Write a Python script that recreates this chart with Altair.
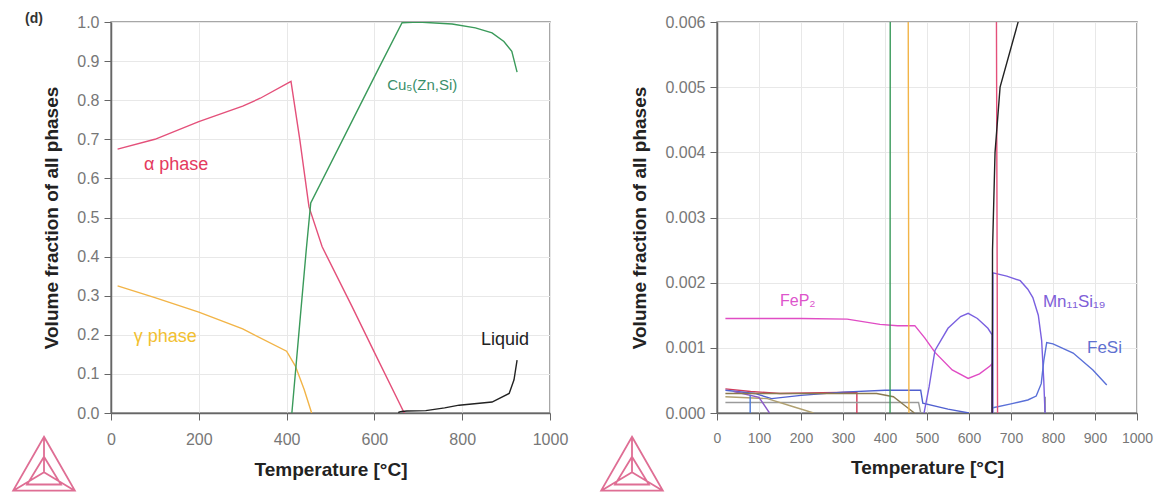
import altair as alt
import pandas as pd

# ---------------- left panel (volume fraction 0..1) ----------------
alpha_T = [15, 100, 200, 300, 340, 410, 430, 451, 481, 550, 600, 668]
alpha_v = [0.675, 0.70, 0.745, 0.785, 0.805, 0.848, 0.70, 0.527, 0.425, 0.27, 0.155, 0.0]

gamma_T = [15, 100, 200, 300, 400, 420, 440, 457]
gamma_v = [0.325, 0.295, 0.258, 0.215, 0.158, 0.12, 0.06, 0.0]

cu5_T = [412, 430, 445, 455, 535, 610, 663, 700, 777, 830, 868, 895, 913, 925]
cu5_v = [0.0, 0.23, 0.42, 0.537, 0.715, 0.882, 0.998, 1.0, 0.995, 0.985, 0.972, 0.95, 0.925, 0.872]

liquid_T = [655, 655.5, 656, 662, 674, 717, 760, 793, 868, 907, 918, 925]
liquid_v = [0.0, 0.001, 0.0025, 0.004, 0.005, 0.006, 0.013, 0.02, 0.028, 0.05, 0.085, 0.135]

# ---------------- right panel (minor phases) ----------------
fep2_T = [20, 100, 200, 310, 388, 430, 471, 495, 519, 560, 598, 625, 650, 655, 655]
fep2_v = [0.00145, 0.00145, 0.00145, 0.00144, 0.00136, 0.00134, 0.00134, 0.00115, 0.00093, 0.00066, 0.00053, 0.0006, 0.00072, 0.00076, 0.0]

mna_T = [493, 505, 519, 550, 580, 598, 620, 645, 655, 655]
mna_v = [0.0, 0.0004, 0.00096, 0.0013, 0.00148, 0.00153, 0.00145, 0.0013, 0.0012, 0.0]

mnb_T = [657, 657, 690, 722, 740, 752, 765, 773, 778, 781]
mnb_v = [0.0, 0.00215, 0.0021, 0.00203, 0.0019, 0.00177, 0.0015, 0.00111, 0.0005, 0.0]

fesi_T = [657, 700, 740, 760, 772, 778, 785, 800, 848, 895, 928]
fesi_v = [0.00008, 0.00014, 0.0002, 0.00026, 0.00045, 0.0008, 0.00108, 0.00106, 0.00092, 0.00066, 0.00043]

m1_T = [20, 80, 150, 250, 333, 333]
m1_v = [0.00037, 0.00033, 0.0003, 0.00031, 0.00032, 0.0]
m2_T = [20, 90, 130, 200, 300, 400, 485, 490, 550, 600]
m2_v = [0.00035, 0.0003, 0.00022, 0.00027, 0.00032, 0.00035, 0.00035, 0.00015, 0.00006, 0.0]
m3_T = [20, 480, 485]
m3_v = [0.00016, 0.00016, 0.0]
m4_T = [20, 120, 180, 230]
m4_v = [0.00025, 0.00022, 0.0001, 0.0]
m5_T = [40, 100, 125]
m5_v = [0.00033, 0.00024, 0.0]
m6_T = [79, 79]
m6_v = [0.0, 0.00028]
m7_T = [20, 380, 420, 450, 470]
m7_v = [0.0003, 0.0003, 0.00025, 0.0001, 0.0]
m8_T = [781, 781]
m8_v = [0.0, 0.00025]

series_names = ["alpha", "gamma", "cu5", "liquid", "fep2", "mna", "mnb", "fesi",
                "m1", "m2", "m3", "m4", "m5", "m6", "m7", "m8"]
series_colors = ["#e4507a", "#f2b447", "#3a9a5a", "#222222", "#e04cc4", "#7a60e0", "#7a60e0", "#5a70d8",
                 "#d03a5a", "#5060d0", "#9a9a9a", "#b0a070", "#8a58c8", "#4a78d8", "#8a7a50", "#777777"]

# labels
left_lab_text = ["α phase", "γ phase", "Cu₅(Zn,Si)", "Liquid"]
left_lab_T = [75, 52, 629, 843]
left_lab_v = [0.634, 0.195, 0.839, 0.187]
left_lab_col = ["#e43a5e", "#f2c030", "#3a8f6a", "#222222"]
left_lab_size = [18, 18, 15, 18]

right_lab_text = ["FeP₂", "Mn₁₁Si₁₉", "FeSi"]
right_lab_T = [150, 776, 881]
right_lab_v = [0.001725, 0.0017, 0.001]
right_lab_col = ["#dd55cc", "#8060d8", "#6070d0"]
right_lab_size = [16, 17, 17]

x_ticks_left = [0, 200, 400, 600, 800, 1000]
x_ticks_right = [0, 100, 200, 300, 400, 500, 600, 700, 800, 900, 1000]
y_ticks_left = [0.0, 0.1, 0.2, 0.3, 0.4, 0.5, 0.6, 0.7, 0.8, 0.9, 1.0]
y_ticks_right = [0.0, 0.001, 0.002, 0.003, 0.004, 0.005, 0.006]


def sdf(name, T, v):
    return pd.DataFrame({"series": name, "T": T, "v": v, "i": list(range(len(T)))})


left_df = pd.concat([sdf("alpha", alpha_T, alpha_v), sdf("gamma", gamma_T, gamma_v),
                     sdf("cu5", cu5_T, cu5_v), sdf("liquid", liquid_T, liquid_v)])
right_df = pd.concat([sdf("m1", m1_T, m1_v), sdf("m2", m2_T, m2_v), sdf("m3", m3_T, m3_v),
                      sdf("m4", m4_T, m4_v), sdf("m5", m5_T, m5_v), sdf("m6", m6_T, m6_v),
                      sdf("m7", m7_T, m7_v), sdf("m8", m8_T, m8_v),
                      sdf("fep2", fep2_T, fep2_v), sdf("mna", mna_T, mna_v), sdf("mnb", mnb_T, mnb_v),
                      sdf("fesi", fesi_T, fesi_v),
                      sdf("alpha", alpha_T, alpha_v), sdf("gamma", gamma_T, gamma_v),
                      sdf("cu5", cu5_T, cu5_v), sdf("liquid", liquid_T, liquid_v)])

left_lab = pd.DataFrame({"t": left_lab_text, "T": left_lab_T, "v": left_lab_v,
                         "c": left_lab_col, "s": left_lab_size})
right_lab = pd.DataFrame({"t": right_lab_text, "T": right_lab_T, "v": right_lab_v,
                          "c": right_lab_col, "s": right_lab_size})

color_scale = alt.Scale(domain=series_names, range=series_colors)

LOGO = ("M0,-0.95L1,0.8L-1,0.8Z M0,-0.95L0,0.2 M1,0.8L0,0.2 M-1,0.8L0,0.2 "
        "M0,-0.3L0.55,0.6L-0.55,0.6Z")

W_L, W_R, H = 439, 420, 391
AX_FONT = "Liberation Sans"


def panel(df, lab, xticks, yticks, yfmt, ydom, width, title_pad, logo_x, xlab_size, extra=None):
    xs = alt.Scale(domain=[0, 1000], nice=False)
    ys = alt.Scale(domain=ydom, nice=False)
    x = alt.X("T:Q", scale=xs,
              axis=alt.Axis(values=xticks, tickCount=len(xticks), format="d",
                            title="Temperature [°C]", labelFontSize=xlab_size, labelFlush=False,
                            titlePadding=13, labelPadding=11, labelOverlap=False))
    y = alt.Y("v:Q", scale=ys,
              axis=alt.Axis(values=yticks, tickCount=len(yticks), format=yfmt, labelFlush=False,
                            title="Volume fraction of all phases",
                            titlePadding=title_pad, labelPadding=5, labelOverlap=False))
    lines = alt.Chart(df).mark_line(strokeWidth=1.4, clip=True).encode(
        x=x, y=y,
        color=alt.Color("series:N", scale=color_scale, legend=None),
        detail="series:N", order="i:Q")
    texts = alt.Chart(lab).mark_text(align="left", baseline="middle", font=AX_FONT).encode(
        x="T:Q", y="v:Q", text="t:N",
        color=alt.Color("c:N", scale=None),
        size=alt.Size("s:Q", scale=None))
    logo = alt.Chart(pd.DataFrame({"k": [0]})).mark_point(
        shape=LOGO, size=3800, filled=False, stroke="#d84a7a", strokeWidth=1.8, opacity=0.8
    ).encode(x=alt.value(logo_x), y=alt.value(444))
    layers = [lines, texts, logo]
    if extra is not None:
        layers.append(extra)
    return alt.layer(*layers).properties(width=width, height=H)


d_label = alt.Chart(pd.DataFrame({"t": ["(d)"]})).mark_text(
    font=AX_FONT, fontWeight="bold", fontSize=14, color="#333", align="center", baseline="middle"
).encode(x=alt.value(-77), y=alt.value(-3), text="t:N")

left = panel(left_df, left_lab, x_ticks_left, y_ticks_left, ".1f", [0, 1], W_L, 15, -67, 16, d_label)
right = panel(right_df, right_lab, x_ticks_right, y_ticks_right, ".3f", [0, 0.006], W_R, 15, -85, 14)

chart = alt.hconcat(left, right, spacing=27).properties(
    padding={"left": 0, "top": 3, "right": 0, "bottom": 0}
).configure_view(stroke="#8a8a8a", strokeWidth=1.5).configure_axis(
    labelFont=AX_FONT, labelFontSize=16, labelColor="#777",
    titleFont=AX_FONT, titleFontSize=19, titleFontWeight="bold", titleColor="#222",
    domainColor="#666", domainWidth=1.5, tickColor="#666", tickSize=7,
    gridColor="#e8e8e8", gridWidth=1
)

chart.save("out.html", embed_options={"renderer": "svg", "actions": False})
